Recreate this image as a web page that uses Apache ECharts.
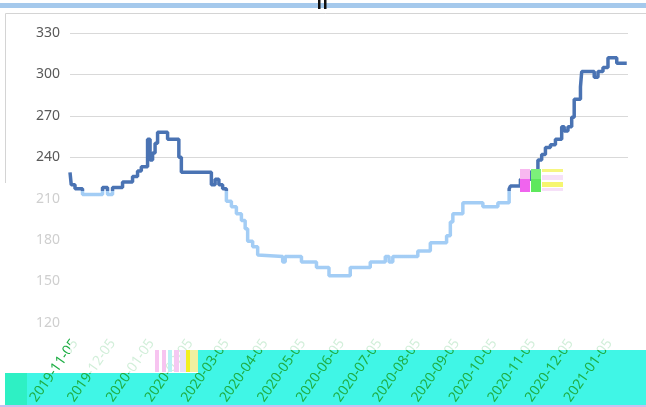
<!DOCTYPE html>
<html><head><meta charset="utf-8">
<script src="https://cdn.jsdelivr.net/npm/echarts@6/dist/echarts.min.js"></script>
<style>html,body{margin:0;padding:0;background:#fff}#c{width:646px;height:407px}</style>
</head><body><div id="c"></div>
<script>
const dates = ['2019-11-01','2019-11-02','2019-11-05','2019-11-11','2019-11-27','2019-12-01','2019-12-05','2019-12-13','2019-12-21','2019-12-25','2019-12-28','2020-01-02','2020-01-04','2020-01-06','2020-01-08','2020-01-10','2020-01-18','2020-01-27','2020-01-29','2020-02-22','2020-02-25','2020-02-28','2020-03-02','2020-03-05','2020-03-09','2020-03-13','2020-03-17','2020-03-20','2020-03-22','2020-03-26','2020-03-30','2020-03-31','2020-04-19','2020-04-21','2020-05-04','2020-05-16','2020-05-26','2020-06-12','2020-06-28','2020-07-10','2020-07-13','2020-07-16','2020-08-05','2020-08-15','2020-08-28','2020-08-31','2020-09-02','2020-09-10','2020-09-26','2020-10-08','2020-10-17','2020-10-18','2020-10-26','2020-11-04','2020-11-09','2020-11-12','2020-11-15','2020-11-19','2020-11-23','2020-11-28','2020-11-30','2020-12-03','2020-12-06','2020-12-08','2020-12-13','2020-12-14','2020-12-24','2020-12-27','2020-12-31','2021-01-04','2021-01-11','2021-01-19'];
const values = [229,220,217,213,218,213,218,222,226,230,233,253,238,243,250,258,253,240,229,220,224,220,217,208,204,199,194,188,179,175,169,168,164,168,164,160,154,160,164,168,164,168,172,178,183,193,199,207,204,207,217,219,224,230,238,242,247,249,253,262,259,262,269,282,291,302,298,302,305,312,308,308];
const tickLabels = ['2019-11-05','2019-12-05','2020-01-05','2020-02-05','2020-03-05','2020-04-05','2020-05-05','2020-06-05','2020-07-05','2020-08-05','2020-09-05','2020-10-05','2020-11-05','2020-12-05','2021-01-05'];
const yTicks = [120,150,180,210,240,270,300,330];

function ts(s){const p=s.split('-');return Date.UTC(+p[0],+p[1]-1,+p[2]);}
function fmt(v){const d=new Date(v);const m=d.getUTCMonth()+1,dd=d.getUTCDate();return d.getUTCFullYear()+'-'+(m<10?'0':'')+m+'-'+(dd<10?'0':'')+dd;}

const chart = echarts.init(document.getElementById('c'));
const bandColor = '#40f6e6';
const dark = '#4a73b3', light = '#a3cdf5', split = 191/407;
chart.setOption({
  animation:false,
  grid:{left:70,right:18,top:33,bottom:83},
  xAxis:{
    type:'value', min:ts('2019-11-01'), max:ts('2021-01-20'), z:3,
    axisLine:{show:false}, axisTick:{show:false}, splitLine:{show:false},
    axisLabel:{customValues:tickLabels.map(ts), formatter:v=>fmt(v), rotate:55, margin:18,
      color:'#1fae45', fontSize:14, fontFamily:'Noto Sans', hideOverlap:false}
  },
  yAxis:{
    type:'value', min:120, max:330, interval:30,
    axisLine:{show:false}, axisTick:{show:false},
    splitLine:{lineStyle:{color:yTicks.map(v=>v>=240?'#d9d9d9':'rgba(0,0,0,0)'), width:1}},
    axisLabel:{margin:10, fontSize:14, fontFamily:'Noto Sans', color:v=>v>=240?'#595959':'#cfcfcf'}
  },
  series:[{
    type:'line', step:'end', showSymbol:false, symbol:'none',
    lineStyle:{width:3.5, color:{type:'linear',x:0,y:0,x2:0,y2:407,global:true,
      colorStops:[{offset:0,color:dark},{offset:split,color:dark},{offset:split,color:light},{offset:1,color:light}]}},
    data:dates.map((d,i)=>[ts(d),values[i]])
  }],
  graphic:[
    {type:'rect',shape:{x:0,y:3,width:646,height:5},style:{fill:'#a5c9ec'},z:1},
    {type:'rect',shape:{x:318,y:0,width:2.5,height:9},style:{fill:'#111'},z:1},
    {type:'rect',shape:{x:324,y:0,width:2.5,height:9},style:{fill:'#111'},z:1},
    {type:'polyline',shape:{points:[[5.5,183],[5.5,13.5],[646,13.5]]},style:{stroke:'#d4d4d4',lineWidth:1,fill:null},z:1},
    {type:'rect',shape:{x:5,y:373,width:193,height:33},style:{fill:bandColor},z:1},
    {type:'rect',shape:{x:5,y:373,width:22,height:33},style:{fill:'#2ef0c4'},z:1},
    {type:'rect',shape:{x:198,y:350,width:448,height:56},style:{fill:bandColor},z:1},
    {type:'rect',shape:{x:0,y:405,width:646,height:2},style:{fill:'#c8c0f0'},z:1},
    {type:'rect',shape:{x:198,y:328,width:448,height:22},style:{fill:'rgba(255,255,255,0.8)'},z:20},
    {type:'rect',shape:{x:70,y:328,width:128,height:45},style:{fill:'rgba(255,255,255,0.8)'},z:20},
    {type:'rect',shape:{x:155,y:350,width:4,height:22},style:{fill:'#f7c4f0'},z:21},
    {type:'rect',shape:{x:162,y:350,width:4,height:22},style:{fill:'#f7c4f0'},z:21},
    {type:'rect',shape:{x:168,y:350,width:4,height:22},style:{fill:'#b8f2f4'},z:21},
    {type:'rect',shape:{x:174,y:350,width:5,height:22},style:{fill:'#f5c8f2'},z:21},
    {type:'rect',shape:{x:180,y:350,width:6,height:22},style:{fill:'#e8e0f8'},z:21},
    {type:'rect',shape:{x:186,y:350,width:4,height:22},style:{fill:'#f2f020'},z:21},
    {type:'rect',shape:{x:190,y:350,width:8,height:22},style:{fill:'#f0f0a0'},z:21},
    {type:'rect',shape:{x:520,y:169,width:10,height:10},style:{fill:'#f8b8f0'},z:21},
    {type:'rect',shape:{x:520,y:179,width:10,height:13},style:{fill:'#f064ee'},z:21},
    {type:'rect',shape:{x:531,y:169,width:10,height:10},style:{fill:'#7cf07a'},z:21},
    {type:'rect',shape:{x:531,y:179,width:10,height:13},style:{fill:'#5ee85c'},z:21},
    {type:'rect',shape:{x:542,y:169,width:21,height:3},style:{fill:'#f6f680'},z:21},
    {type:'rect',shape:{x:542,y:175,width:21,height:5},style:{fill:'#f6e0f8'},z:21},
    {type:'rect',shape:{x:542,y:182,width:21,height:5},style:{fill:'#f6f670'},z:21},
    {type:'rect',shape:{x:542,y:188,width:21,height:3},style:{fill:'#f6e0f8'},z:21}
  ]
});
</script></body></html>
